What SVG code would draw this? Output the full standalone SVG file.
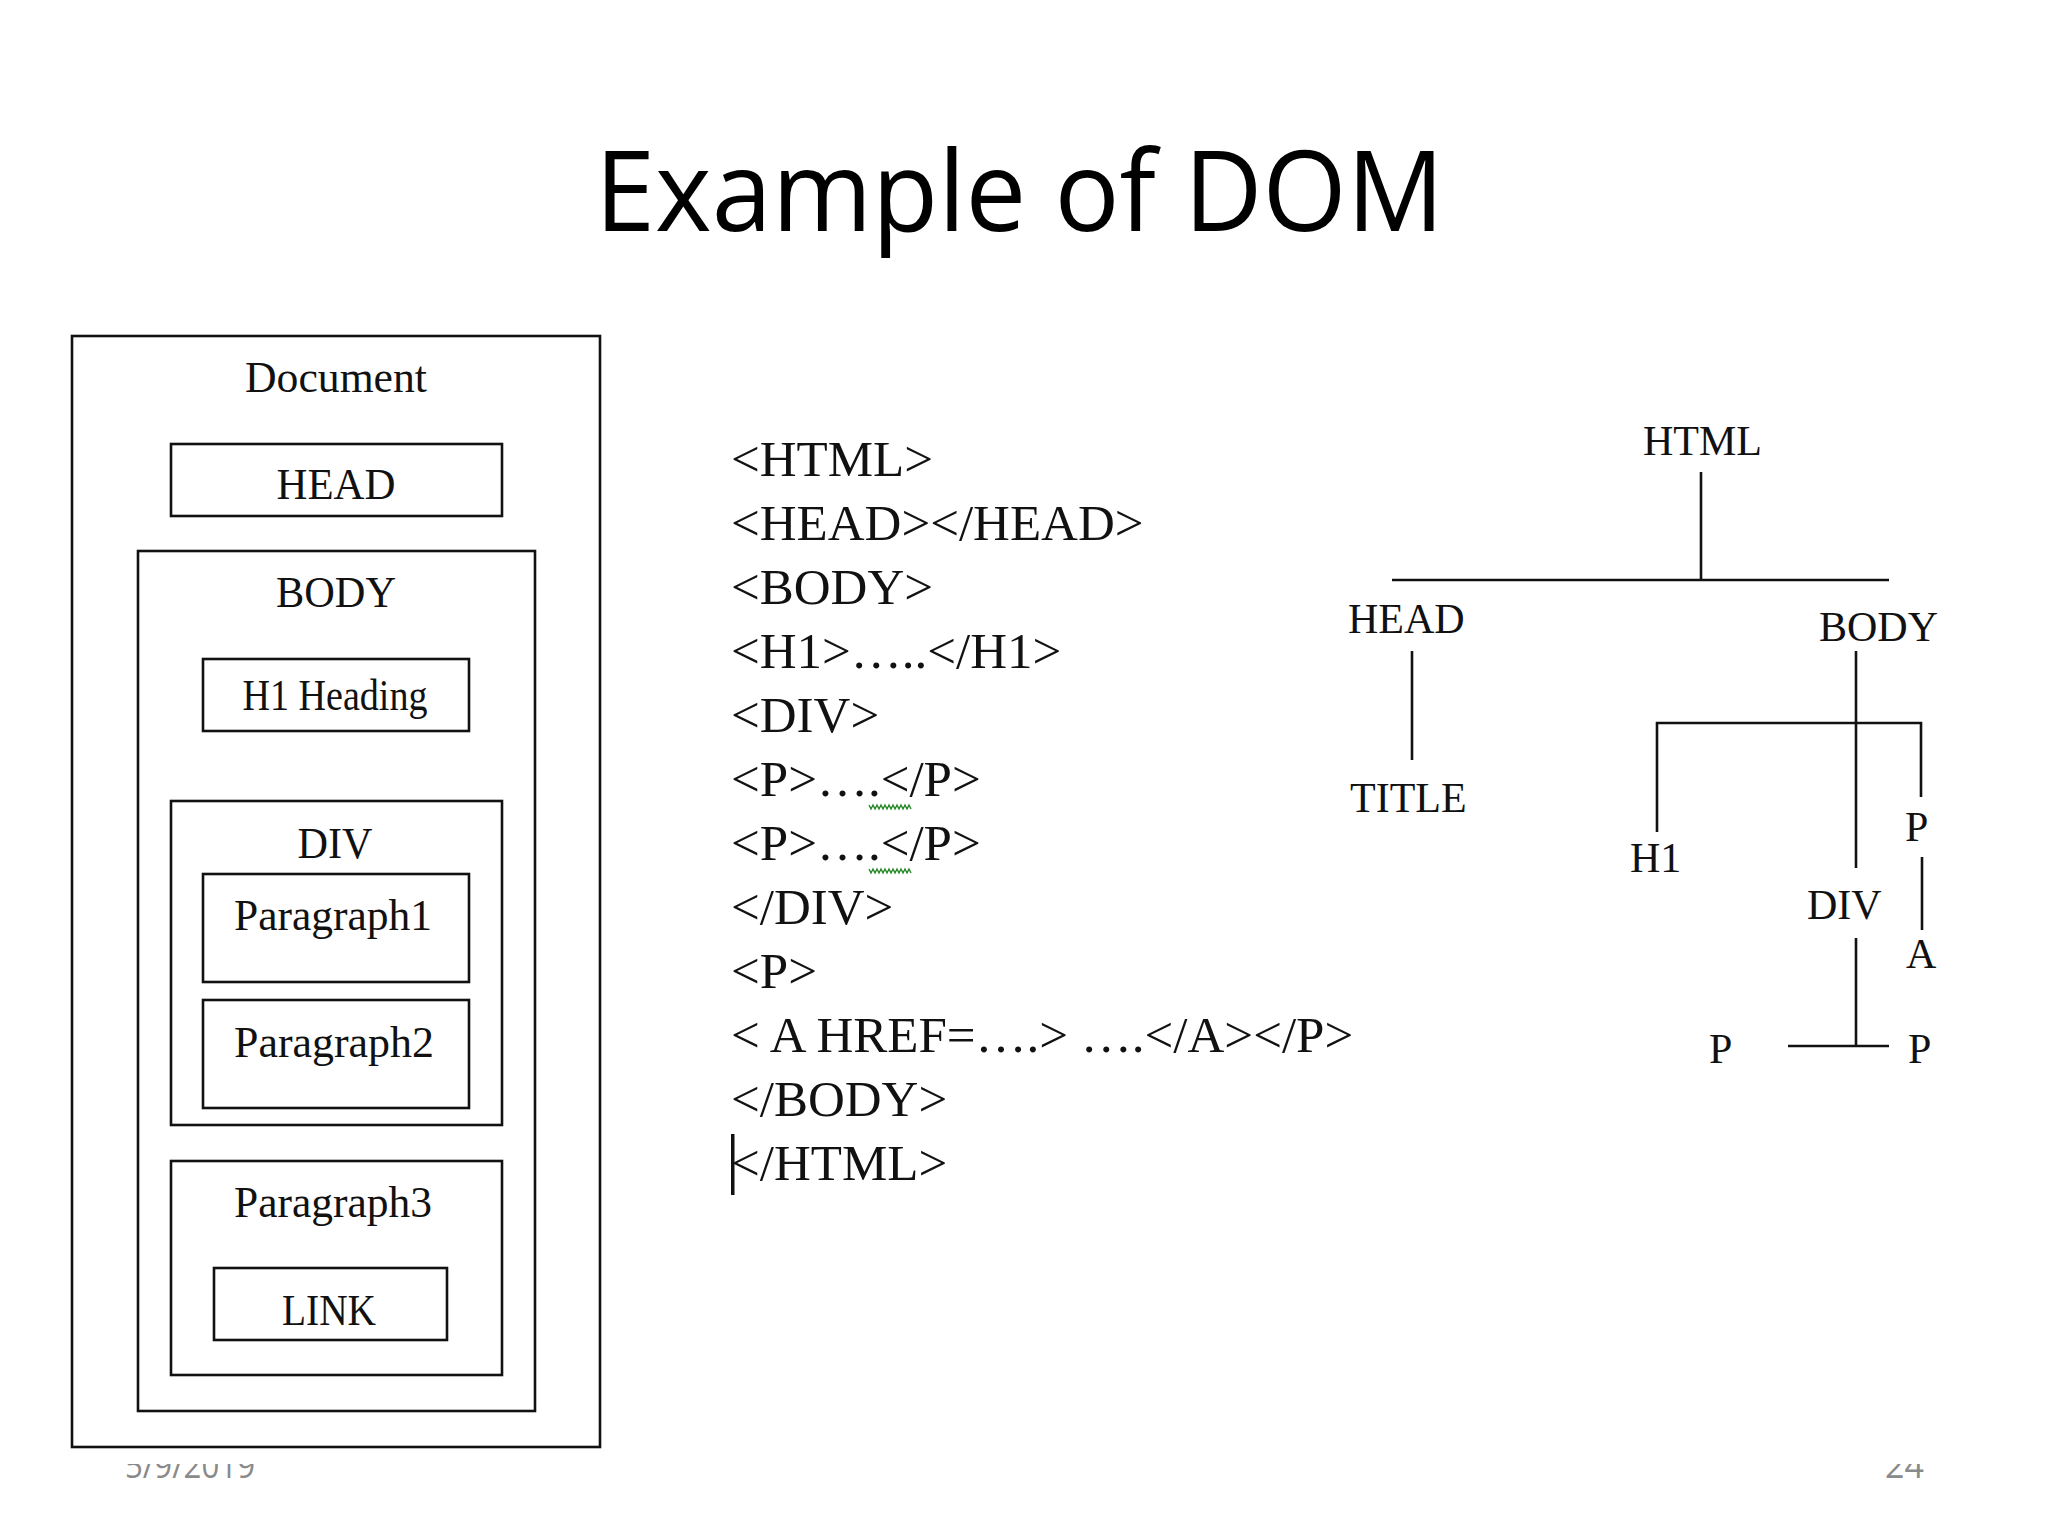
<svg xmlns="http://www.w3.org/2000/svg" width="2048" height="1536" viewBox="0 0 2048 1536">
<style>
  .bx{fill:none;stroke:#111;stroke-width:2.6}
  .t{font-family:"Liberation Serif","Times New Roman",serif;fill:#111}
  .c{font-size:44px;text-anchor:middle}
  .code{font-size:51px}
  .tr{font-size:42px}
  .ln{fill:none;stroke:#111;stroke-width:2.6}
  .ft{font-family:"Open Sans","Liberation Sans",sans-serif;font-size:34px;fill:#8a8a8a}
  .sq{fill:none;stroke:#2a8a2a;stroke-width:1.4}
</style>
<rect x="0" y="0" width="2048" height="1536" fill="#ffffff"/>
<g id="footer">
  <text class="ft" x="125" y="1478" textLength="130" lengthAdjust="spacingAndGlyphs">5/9/2019</text>
  <text class="ft" x="1924" y="1478" text-anchor="end">24</text>
  <rect x="0" y="1420" width="2048" height="44" fill="#ffffff"/>
</g>
<text id="title" x="595" y="231" font-family="Open Sans, Liberation Sans, sans-serif" font-size="111" fill="#000" textLength="849" lengthAdjust="spacingAndGlyphs">Example of DOM</text>

<g id="doc-panel">
  <g id="document">
    <rect class="bx" x="72" y="336" width="528" height="1111"/>
    <text class="t c" x="336" y="392" textLength="182" lengthAdjust="spacingAndGlyphs">Document</text>
  </g>
  <g id="head-box">
    <rect class="bx" x="171" y="444" width="331" height="72"/>
    <text class="t c" x="336" y="499" textLength="119" lengthAdjust="spacingAndGlyphs">HEAD</text>
  </g>
  <g id="body-box">
    <rect class="bx" x="138" y="551" width="397" height="860"/>
    <text class="t c" x="336" y="607" textLength="120" lengthAdjust="spacingAndGlyphs">BODY</text>
  </g>
  <g id="h1-box">
    <rect class="bx" x="203" y="659" width="266" height="72"/>
    <text class="t c" x="335" y="710" font-size="39" textLength="185" lengthAdjust="spacingAndGlyphs">H1 Heading</text>
  </g>
  <g id="div-box">
    <rect class="bx" x="171" y="801" width="331" height="324"/>
    <text class="t c" x="335" y="858" textLength="75" lengthAdjust="spacingAndGlyphs">DIV</text>
  </g>
  <g id="para1-box">
    <rect class="bx" x="203" y="874" width="266" height="108"/>
    <text class="t c" x="333" y="930" font-size="46" textLength="198" lengthAdjust="spacingAndGlyphs">Paragraph1</text>
  </g>
  <g id="para2-box">
    <rect class="bx" x="203" y="1000" width="266" height="108"/>
    <text class="t c" x="334" y="1057" font-size="46" textLength="200" lengthAdjust="spacingAndGlyphs">Paragraph2</text>
  </g>
  <g id="para3-box">
    <rect class="bx" x="171" y="1161" width="331" height="214"/>
    <text class="t c" x="333" y="1217" font-size="46" textLength="198" lengthAdjust="spacingAndGlyphs">Paragraph3</text>
  </g>
  <g id="link-box">
    <rect class="bx" x="214" y="1268" width="233" height="72"/>
    <text class="t c" x="329" y="1325" textLength="94" lengthAdjust="spacingAndGlyphs">LINK</text>
  </g>
</g>

<g id="code">
  <text class="t code" x="731" y="476">&lt;HTML&gt;</text>
  <text class="t code" x="731" y="540">&lt;HEAD&gt;&lt;/HEAD&gt;</text>
  <text class="t code" x="731" y="604">&lt;BODY&gt;</text>
  <text class="t code" x="731" y="668">&lt;H1&gt;…..&lt;/H1&gt;</text>
  <text class="t code" x="731" y="732">&lt;DIV&gt;</text>
  <text class="t code" x="731" y="796">&lt;P&gt;….&lt;/P&gt;</text>
  <text class="t code" x="731" y="860">&lt;P&gt;….&lt;/P&gt;</text>
  <text class="t code" x="731" y="924">&lt;/DIV&gt;</text>
  <text class="t code" x="731" y="988">&lt;P&gt;</text>
  <text class="t code" x="731" y="1052">&lt; A HREF=….&gt; ….&lt;/A&gt;&lt;/P&gt;</text>
  <text class="t code" x="731" y="1116">&lt;/BODY&gt;</text>
  <text class="t code" x="731" y="1180">&lt;/HTML&gt;</text>
  <rect x="731" y="1134" width="3.5" height="61" fill="#111"/>
  <polyline class="sq" points="869,805 871,809 873,805 875,809 877,805 879,809 881,805 883,809 885,805 887,809 889,805 891,809 893,805 895,809 897,805 899,809 901,805 903,809 905,805 907,809 909,805 911,809"/>
  <polyline class="sq" points="869,869 871,873 873,869 875,873 877,869 879,873 881,869 883,873 885,869 887,873 889,869 891,873 893,869 895,873 897,869 899,873 901,869 903,873 905,869 907,873 909,869 911,873"/>
</g>

<g id="connectors">
  <path class="ln" d="M1701 472 V580"/>
  <path class="ln" d="M1392 580 H1889"/>
  <path class="ln" d="M1412 651 V760"/>
  <path class="ln" d="M1856 651 V868"/>
  <path class="ln" d="M1657 832 V723 H1921 V797"/>
  <path class="ln" d="M1922 857 V930"/>
  <path class="ln" d="M1856 938 V1046"/>
  <path class="ln" d="M1788 1046 H1889"/>
</g>

<g id="tree">
  <g id="n-html"><text class="t tr" x="1643" y="455">HTML</text></g>
  <g id="n-head"><text class="t tr" x="1348" y="633">HEAD</text></g>
  <g id="n-body"><text class="t tr" x="1819" y="641">BODY</text></g>
  <g id="n-title"><text class="t tr" x="1350" y="812">TITLE</text></g>
  <g id="n-h1"><text class="t tr" x="1630" y="872">H1</text></g>
  <g id="n-p3"><text class="t tr" x="1905" y="841">P</text></g>
  <g id="n-div"><text class="t tr" x="1807" y="919">DIV</text></g>
  <g id="n-a"><text class="t tr" x="1906" y="968">A</text></g>
  <g id="n-p1"><text class="t tr" x="1709" y="1063">P</text></g>
  <g id="n-p2"><text class="t tr" x="1908" y="1063">P</text></g>
</g>
</svg>
